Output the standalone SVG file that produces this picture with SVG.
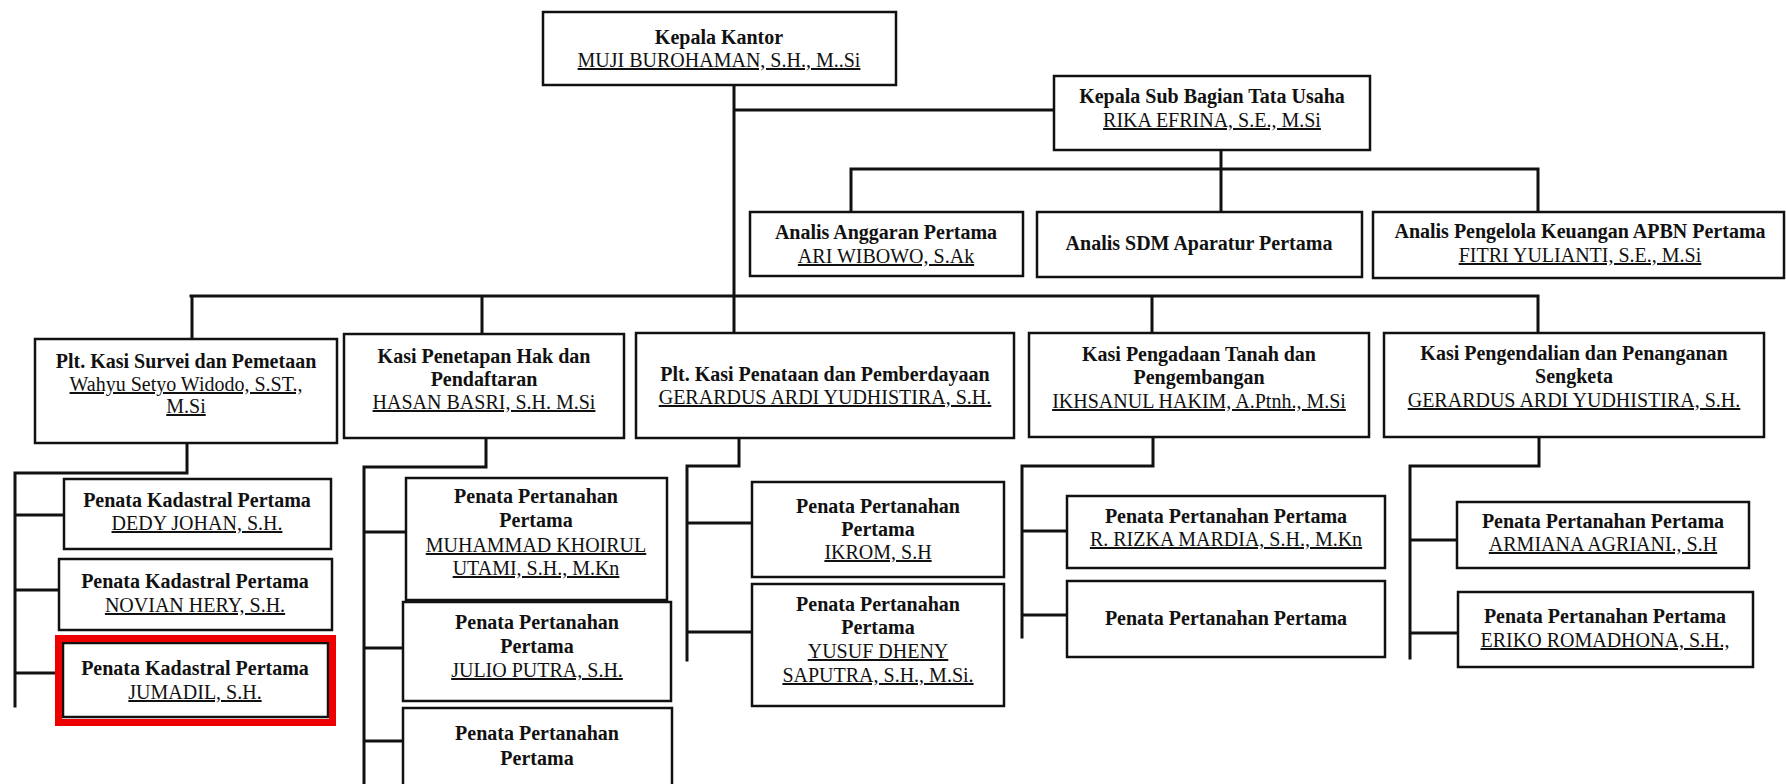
<svg xmlns="http://www.w3.org/2000/svg" width="1786" height="784" viewBox="0 0 1786 784">
<style>
.bx{fill:#fff;stroke:#111;stroke-width:2.5}
.cn{fill:none;stroke:#111;stroke-width:3;stroke-linecap:square}
text{font-family:"Liberation Serif","Times New Roman",serif;font-size:20px;fill:#111;text-anchor:middle}
.t{font-weight:bold}
.n{text-decoration:underline}
.hl{fill:none;stroke:#ee0000;stroke-width:7}
</style>
<rect width="1786" height="784" fill="#fff"/>
<g id="connectors">
<path class="cn" d="M734 77V333M734 110H1054M1221 141V212M851 212V169H1538V212"/>
<path class="cn" d="M191 296H1538M192 296V339M482 296V334M1152 296V333M1538 296V333"/>
<path class="cn" d="M187 423V473H15V706M15 515H64M15 590H59M15 673H63"/>
<path class="cn" d="M486 424V467H364V784M364 532H406M364 648H403M364 741H403"/>
<path class="cn" d="M739 424V466H687V660M687 523H752M687 632H752"/>
<path class="cn" d="M1153 424V466H1022V637M1022 531H1067M1022 615H1067"/>
<path class="cn" d="M1539 424V466H1410V658M1410 540H1457M1410 633H1458"/>
</g>
<g id="kepala-kantor"><rect class="bx" x="543" y="12" width="353" height="73"/>
<text class="t" x="719" y="44">Kepala Kantor</text><text class="n" x="719" y="67">MUJI BUROHAMAN, S.H., M..Si</text></g>
<g id="kasubag-tu"><rect class="bx" x="1054" y="76" width="316" height="74"/>
<text class="t" x="1212" y="103">Kepala Sub Bagian Tata Usaha</text><text class="n" x="1212" y="127">RIKA EFRINA, S.E., M.Si</text></g>
<g id="analis-anggaran"><rect class="bx" x="750" y="212" width="273" height="64"/>
<text class="t" x="886" y="239">Analis Anggaran Pertama</text><text class="n" x="886" y="263">ARI WIBOWO, S.Ak</text></g>
<g id="analis-sdm"><rect class="bx" x="1037" y="212" width="325" height="65"/>
<text class="t" x="1199" y="250">Analis SDM Aparatur Pertama</text></g>
<g id="analis-keuangan"><rect class="bx" x="1373" y="212" width="411" height="66"/>
<text class="t" x="1580" y="238">Analis Pengelola Keuangan APBN Pertama</text><text class="n" x="1580" y="262">FITRI YULIANTI, S.E., M.Si</text></g>
<g id="kasi-survei"><rect class="bx" x="35" y="339" width="302" height="104"/>
<text class="t" x="186" y="368">Plt. Kasi Survei dan Pemetaan</text><text class="n" x="186" y="391">Wahyu Setyo Widodo, S.ST.,</text><text class="n" x="186" y="413">M.Si</text></g>
<g id="kasi-penetapan"><rect class="bx" x="344" y="334" width="280" height="104"/>
<text class="t" x="484" y="363">Kasi Penetapan Hak dan</text><text class="t" x="484" y="386">Pendaftaran</text><text class="n" x="484" y="409">HASAN BASRI, S.H. M.Si</text></g>
<g id="kasi-penataan"><rect class="bx" x="636" y="333" width="378" height="105"/>
<text class="t" x="825" y="381">Plt. Kasi Penataan dan Pemberdayaan</text><text class="n" x="825" y="404">GERARDUS ARDI YUDHISTIRA, S.H.</text></g>
<g id="kasi-pengadaan"><rect class="bx" x="1029" y="333" width="340" height="104"/>
<text class="t" x="1199" y="361">Kasi Pengadaan Tanah dan</text><text class="t" x="1199" y="384">Pengembangan</text><text class="n" x="1199" y="408">IKHSANUL HAKIM, A.Ptnh., M.Si</text></g>
<g id="kasi-pengendalian"><rect class="bx" x="1384" y="333" width="380" height="104"/>
<text class="t" x="1574" y="360">Kasi Pengendalian dan Penanganan</text><text class="t" x="1574" y="383">Sengketa</text><text class="n" x="1574" y="407">GERARDUS ARDI YUDHISTIRA, S.H.</text></g>
<g id="dedy"><rect class="bx" x="64" y="479" width="267" height="70"/>
<text class="t" x="197" y="507">Penata Kadastral Pertama</text><text class="n" x="197" y="530">DEDY JOHAN, S.H.</text></g>
<g id="novian"><rect class="bx" x="59" y="559" width="273" height="71"/>
<text class="t" x="195" y="588">Penata Kadastral Pertama</text><text class="n" x="195" y="612">NOVIAN HERY, S.H.</text></g>
<g id="jumadil"><rect class="bx" x="63" y="643" width="265" height="74"/>
<text class="t" x="195" y="675">Penata Kadastral Pertama</text><text class="n" x="195" y="699">JUMADIL, S.H.</text>
<rect class="hl" x="58.5" y="638.5" width="274" height="84"/></g>
<g id="muhammad"><rect class="bx" x="406" y="478" width="261" height="122"/>
<text class="t" x="536" y="503">Penata Pertanahan</text><text class="t" x="536" y="527">Pertama</text><text class="n" x="536" y="552">MUHAMMAD KHOIRUL</text><text class="n" x="536" y="575">UTAMI, S.H., M.Kn</text></g>
<g id="julio"><rect class="bx" x="403" y="602" width="268" height="99"/>
<text class="t" x="537" y="629">Penata Pertanahan</text><text class="t" x="537" y="653">Pertama</text><text class="n" x="537" y="677">JULIO PUTRA, S.H.</text></g>
<g id="penata-pertanahan-3"><rect class="bx" x="403" y="708" width="269" height="90"/>
<text class="t" x="537" y="740">Penata Pertanahan</text><text class="t" x="537" y="765">Pertama</text></g>
<g id="ikrom"><rect class="bx" x="752" y="482" width="252" height="95"/>
<text class="t" x="878" y="513">Penata Pertanahan</text><text class="t" x="878" y="536">Pertama</text><text class="n" x="878" y="559">IKROM, S.H</text></g>
<g id="yusuf"><rect class="bx" x="752" y="584" width="252" height="122"/>
<text class="t" x="878" y="611">Penata Pertanahan</text><text class="t" x="878" y="634">Pertama</text><text class="n" x="878" y="658">YUSUF DHENY</text><text class="n" x="878" y="682">SAPUTRA, S.H., M.Si.</text></g>
<g id="rizka"><rect class="bx" x="1067" y="496" width="318" height="72"/>
<text class="t" x="1226" y="523">Penata Pertanahan Pertama</text><text class="n" x="1226" y="546">R. RIZKA MARDIA, S.H., M.Kn</text></g>
<g id="penata-pertanahan-pengadaan"><rect class="bx" x="1067" y="581" width="318" height="76"/>
<text class="t" x="1226" y="625">Penata Pertanahan Pertama</text></g>
<g id="armiana"><rect class="bx" x="1457" y="502" width="292" height="66"/>
<text class="t" x="1603" y="528">Penata Pertanahan Pertama</text><text class="n" x="1603" y="551">ARMIANA AGRIANI., S.H</text></g>
<g id="eriko"><rect class="bx" x="1458" y="592" width="295" height="75"/>
<text class="t" x="1605" y="623">Penata Pertanahan Pertama</text><text class="n" x="1605" y="647">ERIKO ROMADHONA, S.H.,</text></g>
</svg>
